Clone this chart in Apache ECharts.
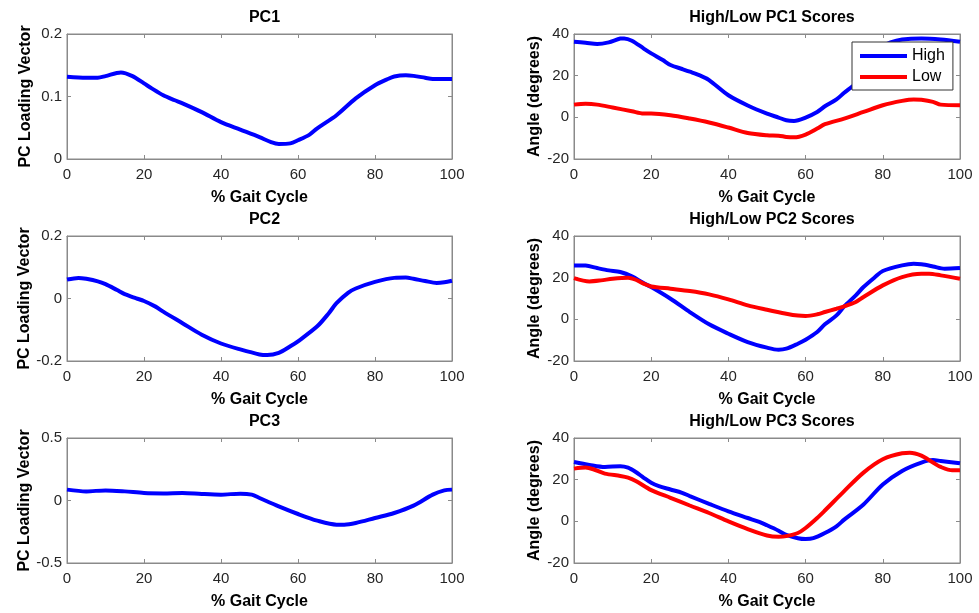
<!DOCTYPE html>
<html>
<head>
<meta charset="utf-8">
<script src="https://cdn.jsdelivr.net/npm/echarts@6/dist/echarts.min.js"></script>
<style>
html,body{margin:0;padding:0;background:#fff;}
#c{width:979px;height:613px;}
</style>
</head>
<body>
<div id="c"></div>
<script>
// ---- Data (x = % gait cycle, y = value) ----
const xTicks = [0, 20, 40, 60, 80, 100];

const pc1Loading = [[0,0.1316],[5,0.130],[8,0.130],[10,0.1326],[14,0.1385],[17,0.1326],[20,0.121],[22,0.113],[25,0.102],[28,0.094],[30,0.089],[35,0.075],[40,0.059],[45,0.047],[50,0.035],[53,0.027],[55,0.024],[58,0.025],[60,0.030],[63,0.039],[65,0.049],[70,0.070],[75,0.097],[80,0.118],[83,0.127],[85,0.132],[88,0.134],[90,0.133],[93,0.130],[95,0.128],[100,0.128]];

const pc1High = [[0,36.3],[3,35.8],[6,35.2],[9,36.0],[12,37.8],[13,37.9],[15,36.8],[18,33.1],[20,30.7],[23,27.5],[25,25.1],[28,23.2],[30,21.9],[33,19.8],[35,17.9],[40,10.6],[45,5.7],[50,1.8],[53,-0.1],[55,-1.4],[57,-1.7],[60,-0.1],[63,2.6],[65,5.3],[68,8.6],[70,11.8],[72,14.7],[74,18],[76,24],[78,30],[80,34],[82,36],[85,37.4],[90,37.9],[95,37.4],[100,36.3]];
const pc1Low = [[0,6.1],[3,6.5],[6,6.1],[10,4.7],[15,2.9],[18,1.8],[20,1.8],[25,1.0],[30,-0.6],[35,-2.5],[40,-4.9],[45,-7.5],[50,-8.6],[53,-8.8],[55,-9.4],[57,-9.6],[60,-8.3],[63,-5.4],[65,-3.3],[70,-0.6],[75,2.6],[80,5.8],[85,7.9],[88,8.6],[90,8.4],[93,7.4],[95,6.1],[100,5.8]];

const pc2Loading = [[0,0.0607],[3,0.066],[5,0.063],[8,0.055],[10,0.046],[13,0.027],[15,0.014],[18,0.0005],[20,-0.008],[23,-0.026],[25,-0.042],[30,-0.079],[35,-0.116],[40,-0.144],[45,-0.163],[50,-0.179],[52,-0.181],[55,-0.174],[58,-0.153],[60,-0.137],[65,-0.089],[68,-0.047],[70,-0.015],[73,0.018],[75,0.032],[80,0.053],[85,0.066],[88,0.067],[90,0.063],[93,0.056],[96,0.050],[98,0.052],[100,0.057]];

const pc2High = [[0,25.9],[3,25.8],[6,24.6],[9,23.5],[12,22.7],[15,20.6],[18,17.4],[20,15.5],[25,9.9],[30,3.5],[35,-2.4],[40,-6.9],[45,-10.9],[50,-13.6],[53,-14.6],[55,-14.1],[58,-11.7],[60,-9.8],[63,-6.1],[65,-2.4],[68,1.9],[70,6.2],[73,11.5],[75,15.5],[78,20.3],[80,23.2],[85,25.9],[88,26.7],[90,26.4],[93,25.4],[96,24.3],[100,24.6]];
const pc2Low = [[0,19.8],[4,18.2],[7,18.7],[10,19.5],[14,20.0],[16,19.0],[18,17.1],[20,15.8],[25,14.7],[30,13.6],[35,12.0],[40,9.6],[45,6.7],[50,4.6],[55,2.7],[58,1.8],[60,1.6],[63,2.4],[65,3.5],[68,5.1],[70,6.2],[73,8.3],[75,10.7],[80,16.3],[85,20.3],[90,21.9],[92,21.9],[95,21.1],[100,19.5]];

const pc3Loading = [[0,0.087],[5,0.073],[10,0.081],[15,0.073],[20,0.060],[25,0.057],[30,0.060],[35,0.052],[40,0.047],[45,0.055],[48,0.047],[50,0.020],[55,-0.047],[60,-0.108],[65,-0.161],[70,-0.193],[72,-0.193],[75,-0.180],[80,-0.140],[85,-0.100],[90,-0.041],[95,0.047],[98,0.081],[100,0.087]];

const pc3High = [[0,28.5],[4,27.1],[8,26.1],[12,26.5],[14,25.8],[16,23.7],[18,21.0],[20,18.5],[22,16.9],[25,15.3],[28,13.7],[30,12.1],[35,8.4],[40,4.8],[45,1.6],[48,-0.3],[50,-1.9],[53,-4.5],[55,-6.5],[58,-8.1],[60,-8.5],[62,-8.1],[65,-5.6],[68,-2.4],[70,0.8],[75,8.1],[80,17.7],[85,24.2],[90,28.2],[93,29.4],[95,29.0],[100,27.9]];
const pc3Low = [[0,25.3],[3,25.8],[5,25.0],[8,22.9],[12,21.8],[14,21.0],[16,19.4],[20,15.0],[25,11.3],[30,7.6],[35,4.0],[40,0.0],[45,-3.7],[50,-6.8],[53,-7.4],[55,-7.1],[58,-5.6],[60,-3.2],[63,1.6],[65,5.2],[70,14.5],[75,23.4],[80,29.8],[85,32.7],[87,32.9],[90,31.5],[93,28.2],[95,26.1],[98,24.5],[100,24.5]];

const titles = ['PC1', 'High/Low PC1 Scores', 'PC2', 'High/Low PC2 Scores', 'PC3', 'High/Low PC3 Scores'];
const yNames = ['PC Loading Vector', 'Angle (degrees)'];
const xName = '% Gait Cycle';
const yRanges = [[0, 0.2, 0.1], [-20, 40, 20], [-0.2, 0.2, 0.2], [-20, 40, 20], [-0.5, 0.5, 0.5], [-20, 40, 20]];
const panelSeries = [
  [{name: 'PC', data: pc1Loading, color: '#0000ff'}],
  [{name: 'High', data: pc1High, color: '#0000ff'}, {name: 'Low', data: pc1Low, color: '#ff0000'}],
  [{name: 'PC', data: pc2Loading, color: '#0000ff'}],
  [{name: 'High', data: pc2High, color: '#0000ff'}, {name: 'Low', data: pc2Low, color: '#ff0000'}],
  [{name: 'PC', data: pc3Loading, color: '#0000ff'}],
  [{name: 'High', data: pc3High, color: '#0000ff'}, {name: 'Low', data: pc3Low, color: '#ff0000'}]
];

// ---- Layout ----
const FONT = '"Liberation Sans", Arial, Helvetica, sans-serif';
const colLeft = [67, 574];
const colWidth = [385, 386];
const rowTop = [34, 236, 438];
const gridH = 125;
const axisColor = '#8a8a8a';
const textColor = '#262626';

const grid = [], xAxis = [], yAxis = [], series = [], title = [];
for (let i = 0; i < 6; i++) {
  const r = Math.floor(i / 2), c = i % 2;
  grid.push({left: colLeft[c], top: rowTop[r], width: colWidth[c], height: gridH, show: true, borderColor: axisColor, borderWidth: 1, backgroundColor: '#fff'});
  title.push({
    text: titles[i], left: colLeft[c] + colWidth[c] / 2, top: rowTop[r] - 29, textAlign: 'center',
    textStyle: {fontFamily: FONT, fontSize: 16, fontWeight: 'bold', color: '#000'}
  });
  const tickCommon = {show: true, inside: true, length: 4, lineStyle: {color: axisColor}};
  xAxis.push({
    type: 'value', gridIndex: i, min: 0, max: 100, interval: 20, position: 'bottom',
    name: xName, nameLocation: 'middle', nameGap: 31,
    nameTextStyle: {fontFamily: FONT, fontSize: 16, fontWeight: 'bold', color: '#000'},
    axisLine: {show: true, onZero: false, lineStyle: {color: axisColor}},
    axisTick: tickCommon, splitLine: {show: false},
    axisLabel: {fontFamily: FONT, fontSize: 15, color: textColor, margin: 8}
  });
  xAxis.push({
    type: 'value', gridIndex: i, min: 0, max: 100, interval: 20, position: 'top',
    axisLine: {show: true, onZero: false, lineStyle: {color: axisColor}},
    axisTick: tickCommon, splitLine: {show: false}, axisLabel: {show: false}
  });
  const yr = yRanges[i];
  yAxis.push({
    type: 'value', gridIndex: i, min: yr[0], max: yr[1], interval: yr[2], position: 'left',
    name: yNames[c], nameLocation: 'middle', nameGap: c === 0 ? 33 : 31, nameRotate: 90,
    nameTextStyle: {fontFamily: FONT, fontSize: 16, fontWeight: 'bold', color: '#000'},
    axisLine: {show: true, onZero: false, lineStyle: {color: axisColor}},
    axisTick: tickCommon, splitLine: {show: false},
    axisLabel: {fontFamily: FONT, fontSize: 15, color: textColor, margin: 5}
  });
  yAxis.push({
    type: 'value', gridIndex: i, min: yr[0], max: yr[1], interval: yr[2], position: 'right',
    axisLine: {show: true, onZero: false, lineStyle: {color: axisColor}},
    axisTick: tickCommon, splitLine: {show: false}, axisLabel: {show: false}
  });
  panelSeries[i].forEach(s => {
    series.push({
      type: 'line', name: s.name, xAxisIndex: i * 2, yAxisIndex: i * 2, data: s.data,
      smooth: 0.3, showSymbol: false, symbol: 'none', clip: true,
      lineStyle: {color: s.color, width: 4}, itemStyle: {color: s.color},
      animation: false, z: 3
    });
  });
}

const chart = echarts.init(document.getElementById('c'), null, {renderer: 'canvas'});
chart.setOption({
  backgroundColor: '#fff',
  animation: false,
  title: title,
  grid: grid,
  xAxis: xAxis,
  yAxis: yAxis,
  series: series,
  legend: {
    data: ['High', 'Low'], left: 852, top: 42, orient: 'vertical',
    icon: 'rect', itemWidth: 47, itemHeight: 4, itemGap: 5,
    padding: [6, 8, 5, 8], backgroundColor: '#fff', borderColor: '#333', borderWidth: 1,
    textStyle: {fontFamily: FONT, fontSize: 16, color: '#000', padding: [0, 0, 0, 0]},
    z: 10
  }
});
</script>
</body>
</html>
